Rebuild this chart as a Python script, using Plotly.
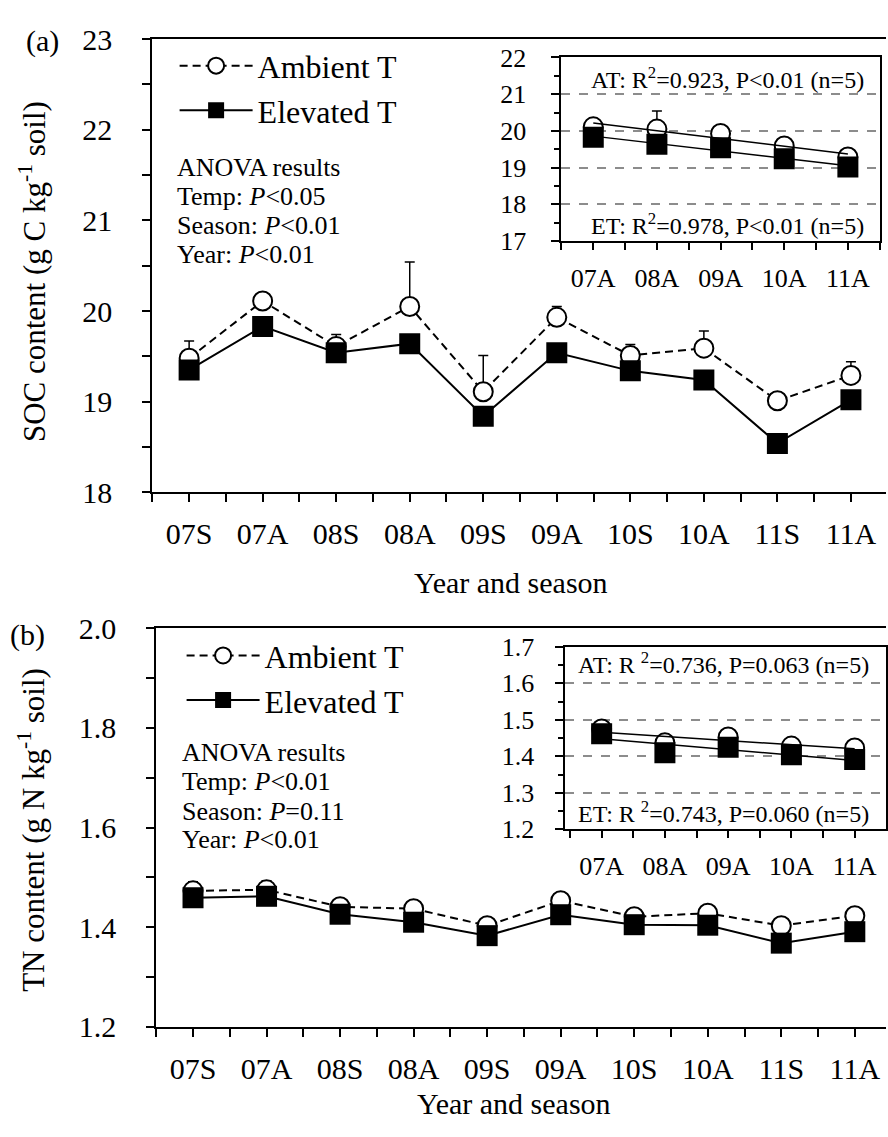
import numpy as np
import plotly.graph_objects as go

W, H = 888, 1137
FONT = "Liberation Serif, Times New Roman, serif"

# ---------------- data ----------------
seasons = ["07S", "07A", "08S", "08A", "09S", "09A", "10S", "10A", "11S", "11A"]
autumn = ["07A", "08A", "09A", "10A", "11A"]

soc_at = [19.48, 20.11, 19.61, 20.05, 19.11, 19.93, 19.51, 19.59, 19.01, 19.29]
soc_at_err = [0.19, 0.04, 0.13, 0.49, 0.40, 0.12, 0.12, 0.19, 0.03, 0.15]
soc_et = [19.35, 19.83, 19.54, 19.64, 18.84, 19.54, 19.34, 19.24, 18.54, 19.02]
soc_et_err = [0.20, 0.05, 0.26, 0.54, 0.43, 0.24, 0.55, 0.13, 0.20, 0.17]

tn_at = [1.473, 1.475, 1.441, 1.437, 1.403, 1.453, 1.421, 1.428, 1.403, 1.423]
tn_at_err = [0.018, 0.018, 0.010, 0.010, 0.008, 0.010, 0.010, 0.010, 0.008, 0.010]
tn_et = [1.459, 1.462, 1.426, 1.410, 1.383, 1.425, 1.405, 1.404, 1.368, 1.391]
tn_et_err = [0.010, 0.010, 0.010, 0.030, 0.038, 0.010, 0.032, 0.010, 0.010, 0.010]

# autumn subsets for the insets
aut_idx = [seasons.index(s) for s in autumn]


def sub(arr):
    return [arr[i] for i in aut_idx]


xs = np.arange(len(seasons))
xa = np.arange(len(autumn))


def fit(y):
    k, b = np.polyfit(xa, y, 1)
    return k * xa + b


def px(p):
    return p / W


def py(p):
    return 1 - p / H


fig = go.Figure()

err_style = dict(color="black", thickness=1.5, width=5)
at_line = dict(color="black", width=2, dash="8px,5px")
et_line = dict(color="black", width=2)
at_marker = dict(symbol="circle", size=19, color="white", line=dict(color="black", width=2))
et_marker = dict(symbol="square", size=21, color="black", line=dict(color="black", width=0))


def add_pair(x, at, at_err, et, et_err, xref, yref, legend, show, mode):
    fig.add_trace(go.Scatter(
        x=x, y=at, mode=mode, name="Ambient T", line=at_line, marker=at_marker,
        error_y=dict(type="data", symmetric=False, array=at_err, **err_style),
        xaxis=xref, yaxis=yref, legend=legend, showlegend=show))
    fig.add_trace(go.Scatter(
        x=x, y=et, mode=mode, name="Elevated T", line=et_line, marker=et_marker,
        error_y=dict(type="data", symmetric=False, arrayminus=et_err, **err_style),
        xaxis=xref, yaxis=yref, legend=legend, showlegend=show))


# panel (a) main
add_pair(xs, soc_at, soc_at_err, soc_et, soc_et_err, "x", "y", "legend", True, "lines+markers")
# panel (b) main
add_pair(xs, tn_at, tn_at_err, tn_et, tn_et_err, "x2", "y2", "legend2", True, "lines+markers")
# inset (a)
add_pair(xa, sub(soc_at), sub(soc_at_err), sub(soc_et), sub(soc_et_err), "x3", "y3", "legend", False, "markers")
# inset (b)
add_pair(xa, sub(tn_at), sub(tn_at_err), sub(tn_et), sub(tn_et_err), "x4", "y4", "legend2", False, "markers")

# regression lines in insets
for y, xr, yr in [(sub(soc_at), "x3", "y3"), (sub(soc_et), "x3", "y3"),
                  (sub(tn_at), "x4", "y4"), (sub(tn_et), "x4", "y4")]:
    fig.add_trace(go.Scatter(x=xa, y=fit(y), mode="lines", line=dict(color="black", width=1.5),
                             xaxis=xr, yaxis=yr, showlegend=False, hoverinfo="skip"))

base = dict(showline=True, linecolor="black", linewidth=2, ticks="outside", tickcolor="black",
            tickwidth=2, ticklen=8, showgrid=False, zeroline=False)


def xmain(domain, rng, anchor):
    return dict(base, domain=domain, range=rng, anchor=anchor, mirror=True, tickmode="array",
                tickvals=list(xs), ticktext=seasons, ticklabelstandoff=6,
                tickfont=dict(family=FONT, size=30, color="black"),
                minor=dict(tickmode="array", tickvals=[v - 0.5 for v in xs] + [9.5],
                           ticks="outside", ticklen=8, tickwidth=2, tickcolor="black"))


def xinset(domain, rng, anchor):
    return dict(base, domain=domain, range=rng, anchor=anchor, mirror=True, tickmode="array",
                tickvals=list(xa), ticktext=autumn, ticklabelstandoff=6, ticklen=7, tickwidth=1.5,
                linewidth=2, tickfont=dict(family=FONT, size=26, color="black"),
                minor=dict(tickmode="array", tickvals=[v - 0.5 for v in xa] + [4.5],
                           ticks="outside", ticklen=7, tickwidth=1.5, tickcolor="black"))


fig.update_layout(
    width=W, height=H, margin=dict(l=0, r=0, t=0, b=0),
    paper_bgcolor="white", plot_bgcolor="white",
    font=dict(family=FONT, color="black"),
    xaxis=xmain([px(152.7), 1], [-0.5, (W - 152.7) / 73.7 - 0.5], "y"),
    yaxis=dict(base, domain=[py(490), py(22.7)], range=[18, 23], dtick=1, tick0=18, anchor="x",
               ticklabelstandoff=24, tickfont=dict(family=FONT, size=30, color="black"),
               minor=dict(dtick=0.5, ticks="outside", ticklen=8, tickwidth=2, tickcolor="black")),
    xaxis2=xmain([px(156.6), 1], [-0.5, (W - 156.6) / 73.7 - 0.5], "y2"),
    yaxis2=dict(base, domain=[py(1041), py(630)], range=[1.2, 2.0], dtick=0.2, tick0=1.2,
                anchor="x2", tickformat=".1f", ticklabelstandoff=24,
                tickfont=dict(family=FONT, size=30, color="black"),
                minor=dict(dtick=0.1, ticks="outside", ticklen=8, tickwidth=2, tickcolor="black")),
    xaxis3=xinset([px(562.7), px(881.7)], [-0.5, 4.5], "y3"),
    yaxis3=dict(base, domain=[py(231), py(41.7)], range=[17, 22], dtick=1, tick0=17, mirror=True,
                anchor="x3", ticklen=8, tickwidth=1.5, ticklabelstandoff=20,
                showgrid=True, griddash="dash", gridcolor="#8c8c8c", gridwidth=1.5,
                tickfont=dict(family=FONT, size=26, color="black"),
                minor=dict(dtick=0.5, ticks="outside", ticklen=5, tickwidth=1.5, tickcolor="black")),
    xaxis4=xinset([px(566.7), 1], [-(603 - 566.7) / 63.4, (W - 603) / 63.4], "y4"),
    yaxis4=dict(base, domain=[py(837.3), py(649.3)], range=[1.2, 1.7], dtick=0.1, tick0=1.2,
                anchor="x4", mirror=True, tickformat=".1f", ticklen=8, tickwidth=1.5,
                ticklabelstandoff=16,
                showgrid=True, griddash="dash", gridcolor="#8c8c8c", gridwidth=1.5,
                tickfont=dict(family=FONT, size=26, color="black"),
                minor=dict(dtick=0.05, ticks="outside", ticklen=5, tickwidth=1.5, tickcolor="black")),
    legend=dict(x=px(175), y=py(22), xanchor="left", yanchor="top", bgcolor="rgba(0,0,0,0)",
                font=dict(family=FONT, size=32, color="black"), itemwidth=73, tracegroupgap=0),
    legend2=dict(x=px(182), y=py(630), xanchor="left", yanchor="top", bgcolor="rgba(0,0,0,0)",
                 font=dict(family=FONT, size=32, color="black"), itemwidth=73, tracegroupgap=0),
)

ann = []


def text(x, y, s, size, anchor="left", angle=0):
    ann.append(dict(x=px(x), y=py(y), xref="paper", yref="paper", text=s, showarrow=False,
                    xanchor=anchor, yanchor="middle", textangle=angle,
                    font=dict(family=FONT, size=size, color="black")))


# panel labels
text(43, 25, "(a)", 30, "center")
text(28, 637, "(b)", 30, "center")

# axis titles
text(32, 262, "SOC content (g C kg<sup>-1</sup> soil)", 31, "center", -90)
text(32, 838, "TN content (g N kg<sup>-1</sup> soil)", 31, "center", -90)
text(512, 583, "Year and season", 30, "center")
text(515, 1120, "Year and season", 30, "center")

# ANOVA blocks
for (x0, ys, lines) in [
    (175, [155, 185, 215, 245],
     ["ANOVA results", "Temp: <i>P</i>&lt;0.05", "Season: <i>P</i>&lt;0.01", "Year: <i>P</i>&lt;0.01"]),
    (180, [758, 788, 819, 848],
     ["ANOVA results", "Temp: <i>P</i>&lt;0.01", "Season: <i>P</i>=0.11", "Year: <i>P</i>&lt;0.01"]),
]:
    for yy, s in zip(ys, lines):
        text(x0, yy, s, 26, "left")

# inset statistics
text(868, 63, "AT: R<sup>2</sup>=0.923, P&lt;0.01 (n=5)", 24, "right")
text(868, 213, "ET: R<sup>2</sup>=0.978, P&lt;0.01 (n=5)", 24, "right")
text(873, 666, "AT: R <sup>2</sup>=0.736, P=0.063 (n=5)", 24, "right")
text(873, 819, "ET: R <sup>2</sup>=0.743, P=0.060 (n=5)", 24, "right")

fig.update_layout(annotations=ann)

fig.write_html("out.html")
